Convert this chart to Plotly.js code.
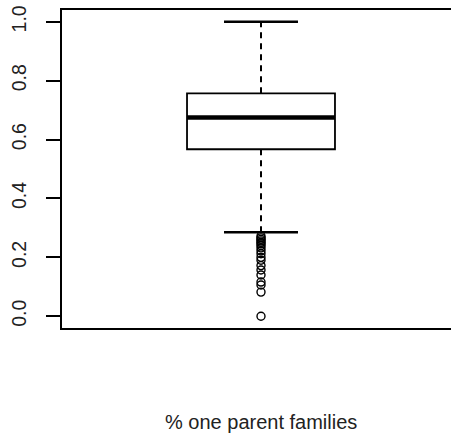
<!DOCTYPE html>
<html>
<head>
<meta charset="utf-8">
<script src="https://cdn.plot.ly/plotly-3.0.1.min.js"></script>
<style>
html,body{margin:0;padding:0;overflow:hidden;background:#fff;}
#chart{width:470px;height:438px;}
</style>
</head>
<body>
<div id="chart"></div>
<script>
// Box statistics
const q1 = [0.567];
const medianVal = [0.675];
const q3 = [0.757];
const lowerWhisker = [0.285];
const upperWhisker = [1.0];
const outliers = [0.272, 0.266, 0.261, 0.256, 0.251, 0.246, 0.24, 0.232, 0.222, 0.212, 0.2, 0.19, 0.172, 0.157, 0.14, 0.116, 0.106, 0.082, 0.0];
const yTicks = [0, 0.2, 0.4, 0.6, 0.8, 1.0];
const yTickLabels = ["0.0", "0.2", "0.4", "0.6", "0.8", "1.0"];
const xLabel = "% one parent families";

const pos = 0;
const boxW = 1;
const capHalf = 0.25;
const black = "#000";

const traces = [
  {
    type: "box", x: [pos], q1: q1, median: medianVal, q3: q3,
    lowerfence: q1, upperfence: q3, width: boxW, whiskerwidth: 0.5,
    fillcolor: "rgba(0,0,0,0)", line: {color: black, width: 1.8},
    boxpoints: false, hoverinfo: "skip"
  },
  { // median
    type: "scatter", mode: "lines",
    x: [pos - boxW/2, pos + boxW/2], y: [medianVal[0], medianVal[0]],
    line: {color: black, width: 4.5}, hoverinfo: "skip"
  },
  { // upper whisker
    type: "scatter", mode: "lines",
    x: [pos, pos], y: [q3[0], upperWhisker[0]],
    line: {color: black, width: 2, dash: "6px,5px"}, hoverinfo: "skip"
  },
  { // lower whisker
    type: "scatter", mode: "lines",
    x: [pos, pos], y: [q1[0], lowerWhisker[0]],
    line: {color: black, width: 2, dash: "6px,5px"}, hoverinfo: "skip"
  },
  { // upper cap
    type: "scatter", mode: "lines",
    x: [pos - capHalf, pos + capHalf], y: [upperWhisker[0], upperWhisker[0]],
    line: {color: black, width: 2.6}, hoverinfo: "skip"
  },
  { // lower cap
    type: "scatter", mode: "lines",
    x: [pos - capHalf, pos + capHalf], y: [lowerWhisker[0], lowerWhisker[0]],
    line: {color: black, width: 2.6}, hoverinfo: "skip"
  },
  { // outliers
    type: "scatter", mode: "markers",
    x: outliers.map(() => pos), y: outliers,
    marker: {symbol: "circle-open", size: 8, color: black, line: {width: 1.4, color: black}},
    hoverinfo: "skip"
  }
];

const layout = {
  width: 470, height: 438,
  margin: {l: 62, r: 10, t: 10, b: 110},
  paper_bgcolor: "#fff", plot_bgcolor: "#fff",
  showlegend: false,
  font: {family: "Liberation Sans, Arial, sans-serif", color: "#222"},
  xaxis: {
    type: "linear", range: [-1.345, 1.345],
    showgrid: false, zeroline: false, showticklabels: false, ticks: "",
    showline: true, linecolor: black, linewidth: 2, mirror: true
  },
  yaxis: {
    range: [-0.04, 1.04],
    tickmode: "array", tickvals: yTicks, ticktext: yTickLabels,
    tickangle: -90, ticks: "outside", ticklen: 14, tickwidth: 2, tickcolor: black,
    ticklabelstandoff: 12,
    tickfont: {size: 19.5, color: "#222"},
    showgrid: false, zeroline: false,
    showline: true, linecolor: black, linewidth: 2, mirror: true
  },
  annotations: [{
    text: xLabel, xref: "paper", yref: "paper",
    x: 0.5, y: -0.296, xanchor: "center", yanchor: "middle",
    showarrow: false, font: {size: 20, color: "#222"}
  }]
};

Plotly.newPlot("chart", traces, layout, {displayModeBar: false, staticPlot: true});
</script>
</body>
</html>
